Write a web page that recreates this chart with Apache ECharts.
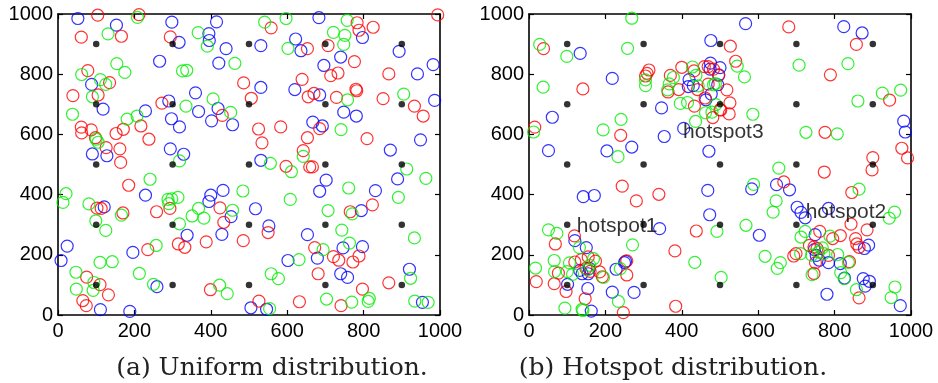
<!DOCTYPE html>
<html><head><meta charset="utf-8">
<script src="https://cdn.jsdelivr.net/npm/echarts@6/dist/echarts.min.js"></script>
<style>html,body{margin:0;padding:0;background:#fff}#c{width:938px;height:383px}</style>
</head><body><div id="c"></div><script>
// ---------- data ----------
const axisTicks = [0, 200, 400, 600, 800, 1000];
const apGridX = [100, 300, 500, 700, 900];
const apGridY = [100, 300, 500, 700, 900];
const captions = ['(a) Uniform distribution.', '(b) Hotspot distribution.'];
const hotspotLabels = [
  {name: 'hotspot1', value: [124, 295]},
  {name: 'hotspot3', value: [402, 606]},
  {name: 'hotspot2', value: [723, 343]}
];

// Panel (a): uniform distribution
const uniformBlue = [[52,985],[153,963],[298,973],[317,906],[415,974],[395,935],[396,912],[440,885],[421,837],[266,843],[88,766],[360,738],[290,711],[118,684],[229,678],[368,676],[419,686],[402,645],[457,632],[297,652],[318,625],[90,535],[128,529],[294,552],[329,534],
 [683,988],[797,922],[622,917],[531,895],[636,878],[893,876],[740,857],[696,829],[982,832],[941,801],[531,756],[620,749],[685,731],[986,713],[748,674],[781,661],[667,641],[692,628],[949,582],[870,548],[531,514],
 [229,398],[121,359],[338,265],[400,398],[432,414],[395,377],[453,327],[429,268],[517,353],[24,229],[8,181],[196,208],[111,18],[188,12],[259,94],[505,24],
 [889,452],[702,448],[685,411],[831,413],[794,347],[552,296],[653,267],[746,223],[797,227],[679,189],[602,181],[740,137],[758,125],[920,152],[954,42],[546,19]];
const uniformRed = [[104,996],[212,998],[166,926],[61,923],[294,924],[78,812],[135,772],[486,771],[39,729],[105,731],[506,720],[272,704],[430,663],[217,628],[171,617],[152,603],[61,624],[62,605],[87,615],[98,589],[238,584],[126,556],[162,552],[164,507],
 [558,954],[783,971],[788,946],[825,956],[994,997],[653,885],[707,895],[776,842],[866,801],[714,795],[733,804],[639,783],[655,725],[670,736],[729,723],[780,750],[782,745],[851,719],[933,694],[956,661],[685,619],[525,618],[583,625],[653,589],[809,586],[534,572],[642,546],[597,494],[659,492],[666,492],
 [185,431],[102,355],[113,354],[170,339],[258,343],[293,354],[315,236],[332,225],[424,356],[434,308],[388,243],[485,247],[235,217],[75,126],[110,101],[132,67],[65,48],[74,31],[399,84],
 [823,366],[765,343],[550,274],[672,224],[721,194],[735,182],[772,176],[788,196],[681,137],[866,107],[797,86],[526,46],[632,44],[741,31]];
const uniformGreen = [[208,989],[131,934],[367,938],[391,893],[463,836],[154,835],[175,806],[62,799],[326,811],[337,813],[111,782],[125,766],[90,725],[406,718],[335,694],[38,667],[207,661],[181,651],[452,673],[100,584],[105,574],[318,512],
 [541,973],[597,985],[757,979],[721,939],[751,929],[748,899],[602,886],[758,715],[905,734],[741,616],[642,527],[556,504],
 [241,451],[21,403],[13,374],[81,369],[166,332],[99,313],[125,281],[288,384],[298,386],[314,391],[290,370],[318,303],[368,354],[351,329],[382,322],[457,348],[484,412],[257,231],[110,175],[142,177],[47,142],[213,138],[94,108],[48,86],[92,82],[250,102],[423,99],[443,71],
 [611,476],[913,485],[963,454],[761,422],[891,391],[608,384],[770,336],[707,347],[743,282],[933,256],[763,239],[694,217],[631,184],[558,137],[577,121],[923,122],[703,53],[769,43],[815,55],[812,45],[934,46],[969,42],[554,21]];

// Panel (b): hotspot distribution
const hotspotBlue = [[134,869],[476,912],[218,786],[475,837],[474,817],[500,822],[419,782],[417,759],[430,762],[463,715],[477,734],[494,765],[347,688],[61,657],[354,593],[405,620],[51,546],[204,545],[269,558],[471,544],
 [567,968],[824,958],[872,937],[497,798],[981,644],[985,608],
 [142,393],[171,397],[468,414],[473,333],[342,287],[120,247],[150,224],[133,148],[139,137],[155,137],[158,155],[228,152],[250,174],[253,178],[101,102],[154,88],[218,76],[275,75],[163,13],
 [583,419],[648,433],[682,416],[702,358],[712,341],[723,323],[784,354],[603,265],[749,267],[878,221],[889,232],[747,217],[752,198],[760,182],[784,174],[815,171],[826,123],[780,69],[875,121],[891,112],[880,96],[972,31]];
const hotspotRed = [[38,885],[141,751],[314,814],[309,803],[305,794],[370,796],[364,741],[392,749],[400,823],[432,811],[459,825],[469,825],[483,817],[496,796],[441,749],[461,721],[469,767],[433,694],[502,681],[481,656],[15,624],[240,597],
 [680,957],[857,899],[527,893],[541,843],[518,748],[526,705],[500,682],[524,668],[789,798],[944,714],[775,607],[976,554],[991,522],[900,523],
 [244,428],[281,379],[340,401],[438,279],[119,263],[69,236],[382,213],[77,139],[120,176],[137,184],[155,193],[174,179],[149,155],[160,145],[185,143],[192,127],[256,180],[256,133],[19,111],[66,104],[97,78],[147,54],[384,29],[247,8],
 [898,482],[773,475],[667,442],[845,407],[843,302],[885,283],[761,278],[795,254],[815,264],[855,254],[858,236],[864,225],[693,196],[699,204],[734,231],[746,226],[754,221],[750,174],[784,198],[839,177],[746,138],[864,57]];
const hotspotGreen = [[269,986],[28,899],[99,859],[258,886],[37,757],[305,781],[305,762],[378,789],[367,768],[363,748],[428,824],[437,796],[443,761],[483,765],[488,769],[396,703],[415,706],[489,699],[462,672],[479,674],[436,643],[241,650],[194,615],[12,608],[233,526],
 [545,827],[564,791],[586,667],[707,830],[835,835],[925,737],[973,747],[861,711],[725,607],[807,602],
 [492,278],[51,283],[73,271],[132,224],[271,233],[434,175],[503,125],[17,156],[66,181],[67,144],[100,144],[106,173],[114,135],[159,165],[169,187],[153,150],[195,125],[239,154],[94,23],[139,19],[141,15],[234,45],
 [654,488],[588,434],[864,418],[647,379],[639,342],[957,342],[943,322],[568,298],[712,259],[723,278],[788,262],[618,195],[658,174],[650,155],[711,204],[740,199],[758,209],[768,223],[772,204],[808,201],[836,175],[816,141],[825,121],[741,134],[857,84],[958,93],[948,58]];

// ---------- chart ----------
const apPoints = [];
apGridX.forEach(x => apGridY.forEach(y => apPoints.push([x, y])));

const AXMIN = axisTicks[0], AXMAX = axisTicks[axisTicks.length - 1], AXSTEP = axisTicks[1] - axisTicks[0];
const lblFont = "'Liberation Sans', Arial, Helvetica, sans-serif";

function axis(gridIndex, position, showLabel, isX) {
  return {
    type: 'value', gridIndex, position, min: AXMIN, max: AXMAX, interval: AXSTEP,
    axisLine: {show: true, onZero: false, lineStyle: {color: '#000', width: 1.6}},
    axisTick: {show: true, inside: true, length: 5, lineStyle: {color: '#000', width: 1.2}},
    axisLabel: {show: showLabel, color: '#000', fontSize: 20, fontFamily: lblFont, margin: isX ? 6 : 5,
      formatter: v => String(v)},
    splitLine: {show: false}
  };
}

function circles(data, color, xi, yi) {
  return {
    type: 'scatter', xAxisIndex: xi, yAxisIndex: yi, data, symbol: 'circle', symbolSize: 12,
    itemStyle: {color: 'rgba(0,0,0,0)', borderColor: color, borderWidth: 1.2}, silent: true
  };
}
function aps(xi, yi) {
  return {
    type: 'scatter', xAxisIndex: xi, yAxisIndex: yi, data: apPoints, symbol: 'circle', symbolSize: 6.5,
    itemStyle: {color: '#000'}, silent: true
  };
}

const option = {
  animation: false,
  backgroundColor: '#fff',
  grid: [
    {left: 58, top: 14, width: 382, height: 301},
    {left: 529, top: 14, width: 382, height: 301}
  ],
  xAxis: [axis(0, 'bottom', true, true), axis(0, 'top', false, true), axis(1, 'bottom', true, true), axis(1, 'top', false, true)],
  yAxis: [axis(0, 'left', true, false), axis(0, 'right', false, false), axis(1, 'left', true, false), axis(1, 'right', false, false)],
  series: [
    circles(uniformBlue, '#0000ff', 0, 0),
    circles(uniformRed, '#ff0000', 0, 0),
    circles(uniformGreen, '#00ee00', 0, 0),
    aps(0, 0),
    circles(hotspotBlue, '#0000ff', 2, 2),
    circles(hotspotRed, '#ff0000', 2, 2),
    circles(hotspotGreen, '#00ee00', 2, 2),
    aps(2, 2),
    {
      type: 'scatter', xAxisIndex: 2, yAxisIndex: 2, data: hotspotLabels, symbolSize: 1,
      itemStyle: {color: 'rgba(0,0,0,0)'}, silent: true,
      label: {show: true, position: 'right', distance: 0, formatter: '{b}', color: '#000',
        fontSize: 21, fontFamily: lblFont}
    }
  ],
  graphic: [
    {type: 'text', x: 272, y: 368, style: {text: captions[0], fill: '#222', font: '25px "DejaVu Serif", serif', textAlign: 'center', textVerticalAlign: 'middle'}},
    {type: 'text', x: 673, y: 368, style: {text: captions[1], fill: '#222', font: '25px "DejaVu Serif", serif', textAlign: 'center', textVerticalAlign: 'middle'}}
  ]
};
echarts.init(document.getElementById('c'), null, {renderer: 'canvas'}).setOption(option);
</script></body></html>
